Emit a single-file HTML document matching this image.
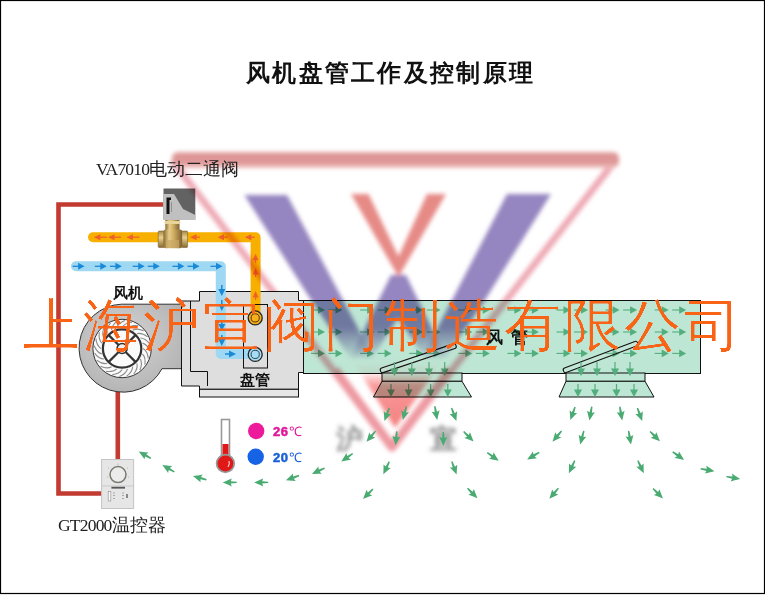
<!DOCTYPE html><html><head><meta charset="utf-8"><style>
html,body{margin:0;padding:0;background:#fff;}
#c{position:relative;width:765px;height:595px;overflow:hidden;background:#fff;}
svg{position:absolute;left:0;top:0;}
.t{position:absolute;white-space:nowrap;line-height:1;}
</style></head><body><div id="c">
<svg width="765" height="595" viewBox="0 0 765 595">
<defs><filter id="thin" x="-2%" y="-10%" width="104%" height="120%"><feGaussianBlur stdDeviation="0.55"/><feComponentTransfer><feFuncA type="linear" slope="3" intercept="-1.8"/></feComponentTransfer></filter><filter id="bl" x="-10%" y="-10%" width="120%" height="120%"><feGaussianBlur stdDeviation="2.2"/></filter><filter id="bl2" x="-20%" y="-20%" width="140%" height="140%"><feGaussianBlur stdDeviation="2.2"/></filter><radialGradient id="fanG" cx="0.45" cy="0.4" r="0.7"><stop offset="0" stop-color="#d4d4d4"/><stop offset="1" stop-color="#b0b0b0"/></radialGradient><linearGradient id="vG" gradientUnits="userSpaceOnUse" x1="0" y1="195" x2="0" y2="360"><stop offset="0" stop-color="#9585c0"/><stop offset="0.8" stop-color="#9585c0"/><stop offset="1" stop-color="#9585c0" stop-opacity="0"/></linearGradient><linearGradient id="rG" gradientUnits="userSpaceOnUse" x1="0" y1="360" x2="0" y2="428"><stop offset="0" stop-color="#f88686" stop-opacity="0"/><stop offset="0.18" stop-color="#f88686" stop-opacity="0.1"/><stop offset="0.38" stop-color="#f88686" stop-opacity="0.85"/><stop offset="1" stop-color="#f48080"/></linearGradient><linearGradient id="barG" x1="0" y1="0" x2="0" y2="1"><stop offset="0" stop-color="#e6a4a4"/><stop offset="0.25" stop-color="#dc9494"/><stop offset="0.7" stop-color="#e09898"/><stop offset="1" stop-color="#f0c8c4"/></linearGradient><linearGradient id="brass" x1="0" y1="0" x2="1" y2="0"><stop offset="0" stop-color="#8a6a30"/><stop offset="0.3" stop-color="#e6cc8a"/><stop offset="0.55" stop-color="#cfae62"/><stop offset="1" stop-color="#806030"/></linearGradient><linearGradient id="brassV" x1="0" y1="0" x2="0" y2="1"><stop offset="0" stop-color="#a88848"/><stop offset="0.4" stop-color="#e8d090"/><stop offset="1" stop-color="#8a6a30"/></linearGradient></defs>
<rect x="0.5" y="0.5" width="764" height="593" fill="#fff" stroke="#000" stroke-width="1.2"/>
<path d="M163,204.5 L58.5,204.5 L58.5,493.5 L102,493.5" fill="none" stroke="#c23a30" stroke-width="4.6"/>
<path d="M117.8,390 L117.8,460" fill="none" stroke="#c23a30" stroke-width="4.6"/>
<path d="M93,237.2 L255.6,237.2 L255.6,300" fill="none" stroke="#f8b000" stroke-width="10" stroke-linecap="round" stroke-linejoin="round"/>
<path d="M76,266.3 L220.8,266.3 L220.8,300" fill="none" stroke="#9ed8f2" stroke-width="10" stroke-linecap="round" stroke-linejoin="round"/>
<path d="M121.5,304.2 L182,304.2 L182,368.7 L162,368.7 A44,44 0 1 1 121.5,304.2 Z" fill="url(#fanG)" stroke="#333" stroke-width="1"/>
<circle cx="122.1" cy="348.5" r="29.2" fill="#fafafa" stroke="#222" stroke-width="0.9"/>
<path d="M143.1,348.5 Q147.5,351.0 148.3,358.4 M142.4,353.9 Q145.9,357.5 144.9,364.8 M140.3,359.0 Q142.8,363.4 139.9,370.1 M136.9,363.3 Q138.2,368.2 133.7,374.0 M132.6,366.7 Q132.6,371.7 126.7,376.1 M127.5,368.8 Q126.2,373.7 119.4,376.4 M122.1,369.5 Q119.6,373.9 112.2,374.7 M116.7,368.8 Q113.1,372.3 105.8,371.3 M111.6,366.7 Q107.2,369.2 100.5,366.3 M107.3,363.3 Q102.4,364.6 96.6,360.1 M103.9,359.0 Q98.9,359.0 94.5,353.1 M101.8,353.9 Q96.9,352.6 94.2,345.8 M101.1,348.5 Q96.7,346.0 95.9,338.6 M101.8,343.1 Q98.3,339.5 99.3,332.2 M103.9,338.0 Q101.4,333.6 104.3,326.9 M107.3,333.7 Q106.0,328.8 110.5,323.0 M111.6,330.3 Q111.6,325.3 117.5,320.9 M116.7,328.2 Q118.0,323.3 124.8,320.6 M122.1,327.5 Q124.6,323.1 132.0,322.3 M127.5,328.2 Q131.1,324.7 138.4,325.7 M132.6,330.3 Q137.0,327.8 143.7,330.7 M136.9,333.7 Q141.8,332.4 147.6,336.9 M140.3,338.0 Q145.3,338.0 149.7,343.9 M142.4,343.1 Q147.3,344.4 150.0,351.2" stroke="#8a8a8a" stroke-width="1.1" fill="none"/>
<circle cx="122.1" cy="348.5" r="19.2" fill="none" stroke="#333" stroke-width="2.2"/>
<path d="M125.6,352.0 L135.5,361.9 M118.6,352.0 L108.7,361.9 M118.6,345.0 L108.7,335.1 M125.6,345.0 L135.5,335.1" stroke="#333" stroke-width="2.2"/>
<circle cx="122.1" cy="348.5" r="5" fill="#eee" stroke="#333" stroke-width="1.6"/>
<rect x="303.5" y="300.5" width="397" height="73" fill="#bee6d4" stroke="#111" stroke-width="1"/>
<g transform="translate(325.0,310.0) rotate(0)"><line x1="-14.0" y1="0" x2="-6.0" y2="0" stroke="#52ae7c" stroke-width="1.1"/><polygon points="0,0 -7.0,-3.8 -7.0,3.8" fill="#52ae7c"/></g>
<g transform="translate(325.0,332.0) rotate(0)"><line x1="-14.0" y1="0" x2="-6.0" y2="0" stroke="#52ae7c" stroke-width="1.1"/><polygon points="0,0 -7.0,-3.8 -7.0,3.8" fill="#52ae7c"/></g>
<g transform="translate(325.0,353.4) rotate(0)"><line x1="-14.0" y1="0" x2="-6.0" y2="0" stroke="#52ae7c" stroke-width="1.1"/><polygon points="0,0 -7.0,-3.8 -7.0,3.8" fill="#52ae7c"/></g>
<g transform="translate(342.5,310.0) rotate(0)"><line x1="-14.0" y1="0" x2="-6.0" y2="0" stroke="#52ae7c" stroke-width="1.1"/><polygon points="0,0 -7.0,-3.8 -7.0,3.8" fill="#52ae7c"/></g>
<g transform="translate(342.5,332.0) rotate(0)"><line x1="-14.0" y1="0" x2="-6.0" y2="0" stroke="#52ae7c" stroke-width="1.1"/><polygon points="0,0 -7.0,-3.8 -7.0,3.8" fill="#52ae7c"/></g>
<g transform="translate(342.5,353.4) rotate(0)"><line x1="-14.0" y1="0" x2="-6.0" y2="0" stroke="#52ae7c" stroke-width="1.1"/><polygon points="0,0 -7.0,-3.8 -7.0,3.8" fill="#52ae7c"/></g>
<g transform="translate(374.1,310.0) rotate(0)"><line x1="-14.0" y1="0" x2="-6.0" y2="0" stroke="#52ae7c" stroke-width="1.1"/><polygon points="0,0 -7.0,-3.8 -7.0,3.8" fill="#52ae7c"/></g>
<g transform="translate(374.1,332.0) rotate(0)"><line x1="-14.0" y1="0" x2="-6.0" y2="0" stroke="#52ae7c" stroke-width="1.1"/><polygon points="0,0 -7.0,-3.8 -7.0,3.8" fill="#52ae7c"/></g>
<g transform="translate(374.1,353.4) rotate(0)"><line x1="-14.0" y1="0" x2="-6.0" y2="0" stroke="#52ae7c" stroke-width="1.1"/><polygon points="0,0 -7.0,-3.8 -7.0,3.8" fill="#52ae7c"/></g>
<g transform="translate(391.6,310.0) rotate(0)"><line x1="-14.0" y1="0" x2="-6.0" y2="0" stroke="#52ae7c" stroke-width="1.1"/><polygon points="0,0 -7.0,-3.8 -7.0,3.8" fill="#52ae7c"/></g>
<g transform="translate(391.6,332.0) rotate(0)"><line x1="-14.0" y1="0" x2="-6.0" y2="0" stroke="#52ae7c" stroke-width="1.1"/><polygon points="0,0 -7.0,-3.8 -7.0,3.8" fill="#52ae7c"/></g>
<g transform="translate(391.6,353.4) rotate(0)"><line x1="-14.0" y1="0" x2="-6.0" y2="0" stroke="#52ae7c" stroke-width="1.1"/><polygon points="0,0 -7.0,-3.8 -7.0,3.8" fill="#52ae7c"/></g>
<g transform="translate(423.2,310.0) rotate(0)"><line x1="-14.0" y1="0" x2="-6.0" y2="0" stroke="#52ae7c" stroke-width="1.1"/><polygon points="0,0 -7.0,-3.8 -7.0,3.8" fill="#52ae7c"/></g>
<g transform="translate(423.2,332.0) rotate(0)"><line x1="-14.0" y1="0" x2="-6.0" y2="0" stroke="#52ae7c" stroke-width="1.1"/><polygon points="0,0 -7.0,-3.8 -7.0,3.8" fill="#52ae7c"/></g>
<g transform="translate(423.2,353.4) rotate(0)"><line x1="-14.0" y1="0" x2="-6.0" y2="0" stroke="#52ae7c" stroke-width="1.1"/><polygon points="0,0 -7.0,-3.8 -7.0,3.8" fill="#52ae7c"/></g>
<g transform="translate(440.7,310.0) rotate(0)"><line x1="-14.0" y1="0" x2="-6.0" y2="0" stroke="#52ae7c" stroke-width="1.1"/><polygon points="0,0 -7.0,-3.8 -7.0,3.8" fill="#52ae7c"/></g>
<g transform="translate(440.7,332.0) rotate(0)"><line x1="-14.0" y1="0" x2="-6.0" y2="0" stroke="#52ae7c" stroke-width="1.1"/><polygon points="0,0 -7.0,-3.8 -7.0,3.8" fill="#52ae7c"/></g>
<g transform="translate(440.7,353.4) rotate(0)"><line x1="-14.0" y1="0" x2="-6.0" y2="0" stroke="#52ae7c" stroke-width="1.1"/><polygon points="0,0 -7.0,-3.8 -7.0,3.8" fill="#52ae7c"/></g>
<g transform="translate(472.3,310.0) rotate(0)"><line x1="-14.0" y1="0" x2="-6.0" y2="0" stroke="#52ae7c" stroke-width="1.1"/><polygon points="0,0 -7.0,-3.8 -7.0,3.8" fill="#52ae7c"/></g>
<g transform="translate(472.3,332.0) rotate(0)"><line x1="-14.0" y1="0" x2="-6.0" y2="0" stroke="#52ae7c" stroke-width="1.1"/><polygon points="0,0 -7.0,-3.8 -7.0,3.8" fill="#52ae7c"/></g>
<g transform="translate(472.3,353.4) rotate(0)"><line x1="-14.0" y1="0" x2="-6.0" y2="0" stroke="#52ae7c" stroke-width="1.1"/><polygon points="0,0 -7.0,-3.8 -7.0,3.8" fill="#52ae7c"/></g>
<g transform="translate(489.8,310.0) rotate(0)"><line x1="-14.0" y1="0" x2="-6.0" y2="0" stroke="#52ae7c" stroke-width="1.1"/><polygon points="0,0 -7.0,-3.8 -7.0,3.8" fill="#52ae7c"/></g>
<g transform="translate(489.8,332.0) rotate(0)"><line x1="-14.0" y1="0" x2="-6.0" y2="0" stroke="#52ae7c" stroke-width="1.1"/><polygon points="0,0 -7.0,-3.8 -7.0,3.8" fill="#52ae7c"/></g>
<g transform="translate(489.8,353.4) rotate(0)"><line x1="-14.0" y1="0" x2="-6.0" y2="0" stroke="#52ae7c" stroke-width="1.1"/><polygon points="0,0 -7.0,-3.8 -7.0,3.8" fill="#52ae7c"/></g>
<g transform="translate(521.4,310.0) rotate(0)"><line x1="-14.0" y1="0" x2="-6.0" y2="0" stroke="#52ae7c" stroke-width="1.1"/><polygon points="0,0 -7.0,-3.8 -7.0,3.8" fill="#52ae7c"/></g>
<g transform="translate(521.4,332.0) rotate(0)"><line x1="-14.0" y1="0" x2="-6.0" y2="0" stroke="#52ae7c" stroke-width="1.1"/><polygon points="0,0 -7.0,-3.8 -7.0,3.8" fill="#52ae7c"/></g>
<g transform="translate(521.4,353.4) rotate(0)"><line x1="-14.0" y1="0" x2="-6.0" y2="0" stroke="#52ae7c" stroke-width="1.1"/><polygon points="0,0 -7.0,-3.8 -7.0,3.8" fill="#52ae7c"/></g>
<g transform="translate(538.9,310.0) rotate(0)"><line x1="-14.0" y1="0" x2="-6.0" y2="0" stroke="#52ae7c" stroke-width="1.1"/><polygon points="0,0 -7.0,-3.8 -7.0,3.8" fill="#52ae7c"/></g>
<g transform="translate(538.9,332.0) rotate(0)"><line x1="-14.0" y1="0" x2="-6.0" y2="0" stroke="#52ae7c" stroke-width="1.1"/><polygon points="0,0 -7.0,-3.8 -7.0,3.8" fill="#52ae7c"/></g>
<g transform="translate(538.9,353.4) rotate(0)"><line x1="-14.0" y1="0" x2="-6.0" y2="0" stroke="#52ae7c" stroke-width="1.1"/><polygon points="0,0 -7.0,-3.8 -7.0,3.8" fill="#52ae7c"/></g>
<g transform="translate(570.5,310.0) rotate(0)"><line x1="-14.0" y1="0" x2="-6.0" y2="0" stroke="#52ae7c" stroke-width="1.1"/><polygon points="0,0 -7.0,-3.8 -7.0,3.8" fill="#52ae7c"/></g>
<g transform="translate(570.5,332.0) rotate(0)"><line x1="-14.0" y1="0" x2="-6.0" y2="0" stroke="#52ae7c" stroke-width="1.1"/><polygon points="0,0 -7.0,-3.8 -7.0,3.8" fill="#52ae7c"/></g>
<g transform="translate(570.5,353.4) rotate(0)"><line x1="-14.0" y1="0" x2="-6.0" y2="0" stroke="#52ae7c" stroke-width="1.1"/><polygon points="0,0 -7.0,-3.8 -7.0,3.8" fill="#52ae7c"/></g>
<g transform="translate(588.0,310.0) rotate(0)"><line x1="-14.0" y1="0" x2="-6.0" y2="0" stroke="#52ae7c" stroke-width="1.1"/><polygon points="0,0 -7.0,-3.8 -7.0,3.8" fill="#52ae7c"/></g>
<g transform="translate(588.0,332.0) rotate(0)"><line x1="-14.0" y1="0" x2="-6.0" y2="0" stroke="#52ae7c" stroke-width="1.1"/><polygon points="0,0 -7.0,-3.8 -7.0,3.8" fill="#52ae7c"/></g>
<g transform="translate(588.0,353.4) rotate(0)"><line x1="-14.0" y1="0" x2="-6.0" y2="0" stroke="#52ae7c" stroke-width="1.1"/><polygon points="0,0 -7.0,-3.8 -7.0,3.8" fill="#52ae7c"/></g>
<g transform="translate(619.6,310.0) rotate(0)"><line x1="-14.0" y1="0" x2="-6.0" y2="0" stroke="#52ae7c" stroke-width="1.1"/><polygon points="0,0 -7.0,-3.8 -7.0,3.8" fill="#52ae7c"/></g>
<g transform="translate(619.6,332.0) rotate(0)"><line x1="-14.0" y1="0" x2="-6.0" y2="0" stroke="#52ae7c" stroke-width="1.1"/><polygon points="0,0 -7.0,-3.8 -7.0,3.8" fill="#52ae7c"/></g>
<g transform="translate(619.6,353.4) rotate(0)"><line x1="-14.0" y1="0" x2="-6.0" y2="0" stroke="#52ae7c" stroke-width="1.1"/><polygon points="0,0 -7.0,-3.8 -7.0,3.8" fill="#52ae7c"/></g>
<g transform="translate(637.1,310.0) rotate(0)"><line x1="-14.0" y1="0" x2="-6.0" y2="0" stroke="#52ae7c" stroke-width="1.1"/><polygon points="0,0 -7.0,-3.8 -7.0,3.8" fill="#52ae7c"/></g>
<g transform="translate(637.1,332.0) rotate(0)"><line x1="-14.0" y1="0" x2="-6.0" y2="0" stroke="#52ae7c" stroke-width="1.1"/><polygon points="0,0 -7.0,-3.8 -7.0,3.8" fill="#52ae7c"/></g>
<g transform="translate(637.1,353.4) rotate(0)"><line x1="-14.0" y1="0" x2="-6.0" y2="0" stroke="#52ae7c" stroke-width="1.1"/><polygon points="0,0 -7.0,-3.8 -7.0,3.8" fill="#52ae7c"/></g>
<g transform="translate(668.7,310.0) rotate(0)"><line x1="-14.0" y1="0" x2="-6.0" y2="0" stroke="#52ae7c" stroke-width="1.1"/><polygon points="0,0 -7.0,-3.8 -7.0,3.8" fill="#52ae7c"/></g>
<g transform="translate(668.7,332.0) rotate(0)"><line x1="-14.0" y1="0" x2="-6.0" y2="0" stroke="#52ae7c" stroke-width="1.1"/><polygon points="0,0 -7.0,-3.8 -7.0,3.8" fill="#52ae7c"/></g>
<g transform="translate(668.7,353.4) rotate(0)"><line x1="-14.0" y1="0" x2="-6.0" y2="0" stroke="#52ae7c" stroke-width="1.1"/><polygon points="0,0 -7.0,-3.8 -7.0,3.8" fill="#52ae7c"/></g>
<g transform="translate(686.2,310.0) rotate(0)"><line x1="-14.0" y1="0" x2="-6.0" y2="0" stroke="#52ae7c" stroke-width="1.1"/><polygon points="0,0 -7.0,-3.8 -7.0,3.8" fill="#52ae7c"/></g>
<g transform="translate(686.2,332.0) rotate(0)"><line x1="-14.0" y1="0" x2="-6.0" y2="0" stroke="#52ae7c" stroke-width="1.1"/><polygon points="0,0 -7.0,-3.8 -7.0,3.8" fill="#52ae7c"/></g>
<g transform="translate(686.2,353.4) rotate(0)"><line x1="-14.0" y1="0" x2="-6.0" y2="0" stroke="#52ae7c" stroke-width="1.1"/><polygon points="0,0 -7.0,-3.8 -7.0,3.8" fill="#52ae7c"/></g>
<rect x="382" y="373" width="80" height="8.3" fill="#bee6d4" stroke="#111" stroke-width="1"/>
<polygon points="382,381.3 462,381.3 471.5,397 373.5,397" fill="#bee6d4" stroke="#111" stroke-width="1"/>
<g transform="translate(380.5,371) rotate(-18.66)"><rect x="0" y="-2.4" width="79.7" height="4.8" rx="2" fill="#f4faf6" fill-opacity="0.1" stroke="#111" stroke-width="1.1"/></g>
<rect x="566" y="373" width="79" height="8.3" fill="#bee6d4" stroke="#111" stroke-width="1"/>
<polygon points="566,381.3 645,381.3 654,397 559,397" fill="#bee6d4" stroke="#111" stroke-width="1"/>
<g transform="translate(563.5,371) rotate(-20.70)"><rect x="0" y="-2.4" width="79.2" height="4.8" rx="2" fill="#f4faf6" fill-opacity="0.1" stroke="#111" stroke-width="1.1"/></g>
<g transform="translate(394.5,376.0) rotate(90)"><line x1="-14.0" y1="0" x2="-6.5" y2="0" stroke="#52ae7c" stroke-width="1.2"/><polygon points="0,0 -7.5,-4.0 -7.5,4.0" fill="#52ae7c"/></g>
<g transform="translate(411.8,376.0) rotate(90)"><line x1="-14.0" y1="0" x2="-6.5" y2="0" stroke="#52ae7c" stroke-width="1.2"/><polygon points="0,0 -7.5,-4.0 -7.5,4.0" fill="#52ae7c"/></g>
<g transform="translate(429.0,376.0) rotate(90)"><line x1="-14.0" y1="0" x2="-6.5" y2="0" stroke="#52ae7c" stroke-width="1.2"/><polygon points="0,0 -7.5,-4.0 -7.5,4.0" fill="#52ae7c"/></g>
<g transform="translate(444.7,376.0) rotate(90)"><line x1="-14.0" y1="0" x2="-6.5" y2="0" stroke="#52ae7c" stroke-width="1.2"/><polygon points="0,0 -7.5,-4.0 -7.5,4.0" fill="#52ae7c"/></g>
<g transform="translate(581.0,376.0) rotate(90)"><line x1="-14.0" y1="0" x2="-6.5" y2="0" stroke="#52ae7c" stroke-width="1.2"/><polygon points="0,0 -7.5,-4.0 -7.5,4.0" fill="#52ae7c"/></g>
<g transform="translate(597.0,376.0) rotate(90)"><line x1="-14.0" y1="0" x2="-6.5" y2="0" stroke="#52ae7c" stroke-width="1.2"/><polygon points="0,0 -7.5,-4.0 -7.5,4.0" fill="#52ae7c"/></g>
<g transform="translate(615.0,376.0) rotate(90)"><line x1="-14.0" y1="0" x2="-6.5" y2="0" stroke="#52ae7c" stroke-width="1.2"/><polygon points="0,0 -7.5,-4.0 -7.5,4.0" fill="#52ae7c"/></g>
<g transform="translate(630.0,376.0) rotate(90)"><line x1="-14.0" y1="0" x2="-6.5" y2="0" stroke="#52ae7c" stroke-width="1.2"/><polygon points="0,0 -7.5,-4.0 -7.5,4.0" fill="#52ae7c"/></g>
<g transform="translate(391.0,397.0) rotate(90)"><line x1="-13.0" y1="0" x2="-6.5" y2="0" stroke="#52ae7c" stroke-width="1.2"/><polygon points="0,0 -7.5,-4.0 -7.5,4.0" fill="#52ae7c"/></g>
<g transform="translate(408.6,397.0) rotate(90)"><line x1="-13.0" y1="0" x2="-6.5" y2="0" stroke="#52ae7c" stroke-width="1.2"/><polygon points="0,0 -7.5,-4.0 -7.5,4.0" fill="#52ae7c"/></g>
<g transform="translate(430.6,397.0) rotate(90)"><line x1="-13.0" y1="0" x2="-6.5" y2="0" stroke="#52ae7c" stroke-width="1.2"/><polygon points="0,0 -7.5,-4.0 -7.5,4.0" fill="#52ae7c"/></g>
<g transform="translate(447.8,397.0) rotate(90)"><line x1="-13.0" y1="0" x2="-6.5" y2="0" stroke="#52ae7c" stroke-width="1.2"/><polygon points="0,0 -7.5,-4.0 -7.5,4.0" fill="#52ae7c"/></g>
<g transform="translate(578.0,397.0) rotate(90)"><line x1="-13.0" y1="0" x2="-6.5" y2="0" stroke="#52ae7c" stroke-width="1.2"/><polygon points="0,0 -7.5,-4.0 -7.5,4.0" fill="#52ae7c"/></g>
<g transform="translate(595.0,397.0) rotate(90)"><line x1="-13.0" y1="0" x2="-6.5" y2="0" stroke="#52ae7c" stroke-width="1.2"/><polygon points="0,0 -7.5,-4.0 -7.5,4.0" fill="#52ae7c"/></g>
<g transform="translate(616.5,397.0) rotate(90)"><line x1="-13.0" y1="0" x2="-6.5" y2="0" stroke="#52ae7c" stroke-width="1.2"/><polygon points="0,0 -7.5,-4.0 -7.5,4.0" fill="#52ae7c"/></g>
<g transform="translate(634.0,397.0) rotate(90)"><line x1="-13.0" y1="0" x2="-6.5" y2="0" stroke="#52ae7c" stroke-width="1.2"/><polygon points="0,0 -7.5,-4.0 -7.5,4.0" fill="#52ae7c"/></g>
<rect x="101.6" y="459.5" width="32" height="49" fill="#e6e6e6" stroke="#c4c4c4" stroke-width="1"/>
<line x1="102" y1="486" x2="133.5" y2="486" stroke="#c8c8c8" stroke-width="1"/>
<rect x="111.4" y="486.8" width="13.6" height="1.8" fill="#555"/>
<circle cx="118" cy="474.6" r="8" fill="#ececec" stroke="#7a7a70" stroke-width="1.5"/>
<g fill="#aaa"><circle cx="118" cy="464.2" r="0.6"/><circle cx="108.5" cy="468" r="0.5"/><circle cx="127.5" cy="468" r="0.5"/><circle cx="107.5" cy="477" r="0.5"/><circle cx="128.5" cy="477" r="0.5"/></g>
<rect x="108.2" y="491.5" width="2.6" height="9.5" fill="#fafafa" stroke="#999" stroke-width="0.7"/>
<g stroke="#999" stroke-width="0.8"><line x1="113" y1="493" x2="115" y2="493"/><line x1="113" y1="495.5" x2="115" y2="495.5"/><line x1="113" y1="498.5" x2="115" y2="498.5"/><line x1="122" y1="493" x2="124" y2="493"/><line x1="122" y1="495.5" x2="124" y2="495.5"/><line x1="122" y1="498.5" x2="124" y2="498.5"/></g>
<rect x="126" y="494" width="2" height="4" fill="#888"/>
<rect x="221.5" y="419.5" width="8" height="38" fill="#fff" stroke="#999" stroke-width="1.6"/>
<rect x="222.5" y="444" width="6" height="16" fill="#e01818"/>
<circle cx="225.4" cy="463.5" r="8.8" fill="#e01818" stroke="#999" stroke-width="1.8"/>
<path d="M229,461 Q230,464 228,467" stroke="#fff" stroke-width="1" fill="none" opacity="0.9"/>
<circle cx="256.2" cy="431" r="8.2" fill="#ee1a9c"/>
<circle cx="255.7" cy="456.8" r="8.2" fill="#1763e6"/>
<rect x="165.3" y="220" width="14.2" height="10" fill="url(#brass)"/>
<rect x="164.5" y="221" width="15.8" height="3" rx="1" fill="#e8d49a"/>
<rect x="158.2" y="231" width="6" height="16.5" rx="1" fill="url(#brassV)" stroke="#6a5020" stroke-width="0.5"/>
<rect x="181.6" y="231" width="6" height="16.5" rx="1" fill="url(#brassV)" stroke="#6a5020" stroke-width="0.5"/>
<rect x="163.5" y="229.4" width="18.6" height="18.8" rx="2" fill="url(#brass)"/>
<rect x="166" y="240" width="13" height="8" fill="#c9a864" opacity="0.7"/>
<polygon points="163.5,188.5 195.3,188.5 195.3,219.5 163.5,219.5" fill="#626262"/>
<polygon points="163.5,194 174,194 183,209 195.3,215 195.3,220 163.5,220" fill="#c0c0c0"/>
<path d="M166.5,197.6 L171,197.6 L171,200 L169.5,200 L169.5,214 L166.5,214 Z" fill="#111"/>
<line x1="171.5" y1="202" x2="171.5" y2="212" stroke="#888" stroke-width="0.8"/>
<g transform="translate(93.8,237.2) rotate(180)"><line x1="-13.0" y1="0" x2="-5.5" y2="0" stroke="#f0602a" stroke-width="1.2"/><polygon points="0,0 -6.5,-3.0 -6.5,3.0" fill="#f0602a"/></g>
<g transform="translate(108.0,237.2) rotate(180)"><line x1="-13.0" y1="0" x2="-5.5" y2="0" stroke="#f0602a" stroke-width="1.2"/><polygon points="0,0 -6.5,-3.0 -6.5,3.0" fill="#f0602a"/></g>
<g transform="translate(126.4,237.2) rotate(180)"><line x1="-13.0" y1="0" x2="-5.5" y2="0" stroke="#f0602a" stroke-width="1.2"/><polygon points="0,0 -6.5,-3.0 -6.5,3.0" fill="#f0602a"/></g>
<g transform="translate(190.0,237.2) rotate(180)"><line x1="-10.0" y1="0" x2="-5.5" y2="0" stroke="#f0602a" stroke-width="1.2"/><polygon points="0,0 -6.5,-3.0 -6.5,3.0" fill="#f0602a"/></g>
<g transform="translate(217.5,237.2) rotate(180)"><line x1="-10.0" y1="0" x2="-5.5" y2="0" stroke="#f0602a" stroke-width="1.2"/><polygon points="0,0 -6.5,-3.0 -6.5,3.0" fill="#f0602a"/></g>
<g transform="translate(244.8,237.2) rotate(180)"><line x1="-10.0" y1="0" x2="-5.5" y2="0" stroke="#f0602a" stroke-width="1.2"/><polygon points="0,0 -6.5,-3.0 -6.5,3.0" fill="#f0602a"/></g>
<g transform="translate(255.6,253.8) rotate(-90)"><line x1="-9.0" y1="0" x2="-5.5" y2="0" stroke="#f0602a" stroke-width="1.2"/><polygon points="0,0 -6.5,-3.0 -6.5,3.0" fill="#f0602a"/></g>
<g transform="translate(255.6,268.0) rotate(-90)"><line x1="-9.0" y1="0" x2="-5.5" y2="0" stroke="#f0602a" stroke-width="1.2"/><polygon points="0,0 -6.5,-3.0 -6.5,3.0" fill="#f0602a"/></g>
<g transform="translate(84.6,266.3) rotate(0)"><line x1="-12.0" y1="0" x2="-5.5" y2="0" stroke="#1a8ad8" stroke-width="1.3"/><polygon points="0,0 -6.5,-3.5 -6.5,3.5" fill="#1a8ad8"/></g>
<g transform="translate(106.8,266.3) rotate(0)"><line x1="-12.0" y1="0" x2="-5.5" y2="0" stroke="#1a8ad8" stroke-width="1.3"/><polygon points="0,0 -6.5,-3.5 -6.5,3.5" fill="#1a8ad8"/></g>
<g transform="translate(121.9,266.3) rotate(0)"><line x1="-12.0" y1="0" x2="-5.5" y2="0" stroke="#1a8ad8" stroke-width="1.3"/><polygon points="0,0 -6.5,-3.5 -6.5,3.5" fill="#1a8ad8"/></g>
<g transform="translate(144.7,266.3) rotate(0)"><line x1="-12.0" y1="0" x2="-5.5" y2="0" stroke="#1a8ad8" stroke-width="1.3"/><polygon points="0,0 -6.5,-3.5 -6.5,3.5" fill="#1a8ad8"/></g>
<g transform="translate(159.8,266.3) rotate(0)"><line x1="-12.0" y1="0" x2="-5.5" y2="0" stroke="#1a8ad8" stroke-width="1.3"/><polygon points="0,0 -6.5,-3.5 -6.5,3.5" fill="#1a8ad8"/></g>
<g transform="translate(184.4,266.3) rotate(0)"><line x1="-12.0" y1="0" x2="-5.5" y2="0" stroke="#1a8ad8" stroke-width="1.3"/><polygon points="0,0 -6.5,-3.5 -6.5,3.5" fill="#1a8ad8"/></g>
<g transform="translate(199.5,266.3) rotate(0)"><line x1="-12.0" y1="0" x2="-5.5" y2="0" stroke="#1a8ad8" stroke-width="1.3"/><polygon points="0,0 -6.5,-3.5 -6.5,3.5" fill="#1a8ad8"/></g>
<g transform="translate(222.5,266.3) rotate(0)"><line x1="-12.0" y1="0" x2="-5.5" y2="0" stroke="#1a8ad8" stroke-width="1.3"/><polygon points="0,0 -6.5,-3.5 -6.5,3.5" fill="#1a8ad8"/></g>
<g style="mix-blend-mode:multiply" filter="url(#bl)">
<path d="M172.5,161 L392,447 L611,166" stroke="#eeaab6" stroke-width="7" fill="none" stroke-linejoin="round"/>
<path d="M335,370 L392,447 L450,370" stroke="#ee9aa2" stroke-width="9" fill="none" stroke-linejoin="round"/>
<rect x="172" y="152" width="447" height="16" rx="6" fill="url(#barG)"/>
<polygon points="244.4,195 287,195 343,300 374,358 350,358 311,300" fill="url(#vG)"/>
<polygon points="507,194 551,194 485,300 446,358 422,358 452,300" fill="url(#vG)"/>
<polygon points="391,275 406,275 446,358 424,358 398,318 372,358 350,358" fill="url(#vG)"/>
<polygon points="351,194 368.5,194 398.5,256.5 427,194 446,194 398.5,277" fill="#e68a86"/>
<polygon points="352,360 444,360 395,428" fill="url(#rG)"/>
</g>
<g opacity="0.68" filter="url(#bl2)" style="mix-blend-mode:multiply">
<text x="336" y="447.5" font-family="Liberation Sans, sans-serif" font-weight="bold" font-size="27" fill="#555">沪</text>
<text x="429.5" y="448" font-family="Liberation Sans, sans-serif" font-weight="bold" font-size="27" fill="#555">宣</text>
</g>
<g transform="translate(144.8,454.9) rotate(-150)"><path d="M-7,-0.7 L-1,-1.2 L-2,-4 L1,-2.6 L7,0 L1,2.6 L-2,4 L-1,1.2 L-7,0.7 Z" fill="#4aab72"/></g>
<g transform="translate(168.4,468.5) rotate(-150)"><path d="M-7,-0.7 L-1,-1.2 L-2,-4 L1,-2.6 L7,0 L1,2.6 L-2,4 L-1,1.2 L-7,0.7 Z" fill="#4aab72"/></g>
<g transform="translate(199.7,477.9) rotate(-165)"><path d="M-7,-0.7 L-1,-1.2 L-2,-4 L1,-2.6 L7,0 L1,2.6 L-2,4 L-1,1.2 L-7,0.7 Z" fill="#4aab72"/></g>
<g transform="translate(229.8,482.4) rotate(180)"><path d="M-7,-0.7 L-1,-1.2 L-2,-4 L1,-2.6 L7,0 L1,2.6 L-2,4 L-1,1.2 L-7,0.7 Z" fill="#4aab72"/></g>
<g transform="translate(261.2,482.4) rotate(180)"><path d="M-7,-0.7 L-1,-1.2 L-2,-4 L1,-2.6 L7,0 L1,2.6 L-2,4 L-1,1.2 L-7,0.7 Z" fill="#4aab72"/></g>
<g transform="translate(292.5,477.9) rotate(160)"><path d="M-7,-0.7 L-1,-1.2 L-2,-4 L1,-2.6 L7,0 L1,2.6 L-2,4 L-1,1.2 L-7,0.7 Z" fill="#4aab72"/></g>
<g transform="translate(318.3,471.0) rotate(155)"><path d="M-7,-0.7 L-1,-1.2 L-2,-4 L1,-2.6 L7,0 L1,2.6 L-2,4 L-1,1.2 L-7,0.7 Z" fill="#4aab72"/></g>
<g transform="translate(386.8,414.5) rotate(110)"><path d="M-7,-0.7 L-1,-1.2 L-2,-4 L1,-2.6 L7,0 L1,2.6 L-2,4 L-1,1.2 L-7,0.7 Z" fill="#4aab72"/></g>
<g transform="translate(404.6,413.2) rotate(105)"><path d="M-7,-0.7 L-1,-1.2 L-2,-4 L1,-2.6 L7,0 L1,2.6 L-2,4 L-1,1.2 L-7,0.7 Z" fill="#4aab72"/></g>
<g transform="translate(436.0,413.0) rotate(80)"><path d="M-7,-0.7 L-1,-1.2 L-2,-4 L1,-2.6 L7,0 L1,2.6 L-2,4 L-1,1.2 L-7,0.7 Z" fill="#4aab72"/></g>
<g transform="translate(454.0,414.5) rotate(70)"><path d="M-7,-0.7 L-1,-1.2 L-2,-4 L1,-2.6 L7,0 L1,2.6 L-2,4 L-1,1.2 L-7,0.7 Z" fill="#4aab72"/></g>
<g transform="translate(371.0,436.5) rotate(130)"><path d="M-7,-0.7 L-1,-1.2 L-2,-4 L1,-2.6 L7,0 L1,2.6 L-2,4 L-1,1.2 L-7,0.7 Z" fill="#4aab72"/></g>
<g transform="translate(396.2,438.4) rotate(95)"><path d="M-7,-0.7 L-1,-1.2 L-2,-4 L1,-2.6 L7,0 L1,2.6 L-2,4 L-1,1.2 L-7,0.7 Z" fill="#4aab72"/></g>
<g transform="translate(443.3,439.0) rotate(90)"><path d="M-7,-0.7 L-1,-1.2 L-2,-4 L1,-2.6 L7,0 L1,2.6 L-2,4 L-1,1.2 L-7,0.7 Z" fill="#4aab72"/></g>
<g transform="translate(468.6,436.5) rotate(45)"><path d="M-7,-0.7 L-1,-1.2 L-2,-4 L1,-2.6 L7,0 L1,2.6 L-2,4 L-1,1.2 L-7,0.7 Z" fill="#4aab72"/></g>
<g transform="translate(347.0,457.5) rotate(145)"><path d="M-7,-0.7 L-1,-1.2 L-2,-4 L1,-2.6 L7,0 L1,2.6 L-2,4 L-1,1.2 L-7,0.7 Z" fill="#4aab72"/></g>
<g transform="translate(386.3,468.0) rotate(115)"><path d="M-7,-0.7 L-1,-1.2 L-2,-4 L1,-2.6 L7,0 L1,2.6 L-2,4 L-1,1.2 L-7,0.7 Z" fill="#4aab72"/></g>
<g transform="translate(454.2,468.0) rotate(70)"><path d="M-7,-0.7 L-1,-1.2 L-2,-4 L1,-2.6 L7,0 L1,2.6 L-2,4 L-1,1.2 L-7,0.7 Z" fill="#4aab72"/></g>
<g transform="translate(493.0,456.7) rotate(35)"><path d="M-7,-0.7 L-1,-1.2 L-2,-4 L1,-2.6 L7,0 L1,2.6 L-2,4 L-1,1.2 L-7,0.7 Z" fill="#4aab72"/></g>
<g transform="translate(368.0,494.0) rotate(135)"><path d="M-7,-0.7 L-1,-1.2 L-2,-4 L1,-2.6 L7,0 L1,2.6 L-2,4 L-1,1.2 L-7,0.7 Z" fill="#4aab72"/></g>
<g transform="translate(472.5,493.3) rotate(45)"><path d="M-7,-0.7 L-1,-1.2 L-2,-4 L1,-2.6 L7,0 L1,2.6 L-2,4 L-1,1.2 L-7,0.7 Z" fill="#4aab72"/></g>
<g transform="translate(572.7,413.5) rotate(110)"><path d="M-7,-0.7 L-1,-1.2 L-2,-4 L1,-2.6 L7,0 L1,2.6 L-2,4 L-1,1.2 L-7,0.7 Z" fill="#4aab72"/></g>
<g transform="translate(590.6,413.5) rotate(100)"><path d="M-7,-0.7 L-1,-1.2 L-2,-4 L1,-2.6 L7,0 L1,2.6 L-2,4 L-1,1.2 L-7,0.7 Z" fill="#4aab72"/></g>
<g transform="translate(621.0,413.5) rotate(80)"><path d="M-7,-0.7 L-1,-1.2 L-2,-4 L1,-2.6 L7,0 L1,2.6 L-2,4 L-1,1.2 L-7,0.7 Z" fill="#4aab72"/></g>
<g transform="translate(639.8,414.5) rotate(70)"><path d="M-7,-0.7 L-1,-1.2 L-2,-4 L1,-2.6 L7,0 L1,2.6 L-2,4 L-1,1.2 L-7,0.7 Z" fill="#4aab72"/></g>
<g transform="translate(557.0,436.4) rotate(130)"><path d="M-7,-0.7 L-1,-1.2 L-2,-4 L1,-2.6 L7,0 L1,2.6 L-2,4 L-1,1.2 L-7,0.7 Z" fill="#4aab72"/></g>
<g transform="translate(582.0,437.7) rotate(105)"><path d="M-7,-0.7 L-1,-1.2 L-2,-4 L1,-2.6 L7,0 L1,2.6 L-2,4 L-1,1.2 L-7,0.7 Z" fill="#4aab72"/></g>
<g transform="translate(629.8,437.7) rotate(80)"><path d="M-7,-0.7 L-1,-1.2 L-2,-4 L1,-2.6 L7,0 L1,2.6 L-2,4 L-1,1.2 L-7,0.7 Z" fill="#4aab72"/></g>
<g transform="translate(655.0,436.4) rotate(45)"><path d="M-7,-0.7 L-1,-1.2 L-2,-4 L1,-2.6 L7,0 L1,2.6 L-2,4 L-1,1.2 L-7,0.7 Z" fill="#4aab72"/></g>
<g transform="translate(533.2,455.9) rotate(150)"><path d="M-7,-0.7 L-1,-1.2 L-2,-4 L1,-2.6 L7,0 L1,2.6 L-2,4 L-1,1.2 L-7,0.7 Z" fill="#4aab72"/></g>
<g transform="translate(571.8,466.9) rotate(115)"><path d="M-7,-0.7 L-1,-1.2 L-2,-4 L1,-2.6 L7,0 L1,2.6 L-2,4 L-1,1.2 L-7,0.7 Z" fill="#4aab72"/></g>
<g transform="translate(640.8,466.9) rotate(65)"><path d="M-7,-0.7 L-1,-1.2 L-2,-4 L1,-2.6 L7,0 L1,2.6 L-2,4 L-1,1.2 L-7,0.7 Z" fill="#4aab72"/></g>
<g transform="translate(678.4,455.9) rotate(35)"><path d="M-7,-0.7 L-1,-1.2 L-2,-4 L1,-2.6 L7,0 L1,2.6 L-2,4 L-1,1.2 L-7,0.7 Z" fill="#4aab72"/></g>
<g transform="translate(707.6,470.0) rotate(10)"><path d="M-7,-0.7 L-1,-1.2 L-2,-4 L1,-2.6 L7,0 L1,2.6 L-2,4 L-1,1.2 L-7,0.7 Z" fill="#4aab72"/></g>
<g transform="translate(733.3,477.8) rotate(10)"><path d="M-7,-0.7 L-1,-1.2 L-2,-4 L1,-2.6 L7,0 L1,2.6 L-2,4 L-1,1.2 L-7,0.7 Z" fill="#4aab72"/></g>
<g transform="translate(553.9,493.5) rotate(130)"><path d="M-7,-0.7 L-1,-1.2 L-2,-4 L1,-2.6 L7,0 L1,2.6 L-2,4 L-1,1.2 L-7,0.7 Z" fill="#4aab72"/></g>
<g transform="translate(658.0,493.5) rotate(45)"><path d="M-7,-0.7 L-1,-1.2 L-2,-4 L1,-2.6 L7,0 L1,2.6 L-2,4 L-1,1.2 L-7,0.7 Z" fill="#4aab72"/></g>
<path d="M199.5,291.5 L298.5,291.5 L298.5,300.5 L303.5,300.5 L303.5,372.5 L298.5,372.5 L298.5,389.3 L199.5,389.3 L199.5,386 L181.5,386 L181.5,301 L199.5,301 Z" fill="#dedede" stroke="#111" stroke-width="1"/>
<path d="M190.5,301 L190.5,371.5 L207.5,371.5 L207.5,386" fill="none" stroke="#111" stroke-width="1"/>
<rect x="199.5" y="389.3" width="99" height="7.7" fill="#e6e6e6" stroke="#111" stroke-width="1"/>
<path d="M220.8,291 L220.8,354 L252,354" fill="none" stroke="#9ed8f2" stroke-width="10" stroke-linejoin="round"/>
<path d="M255.6,291 L255.6,312" fill="none" stroke="#f8b000" stroke-width="10"/>
<rect x="243.5" y="304.5" width="24" height="63.5" fill="none" stroke="#111" stroke-width="1"/>
<circle cx="255.2" cy="317.9" r="7" fill="#f6b01a" stroke="#222" stroke-width="1.3"/>
<circle cx="255.2" cy="317.9" r="4.1" fill="none" stroke="#553311" stroke-width="1"/>
<circle cx="255.2" cy="354.4" r="7" fill="#a8dcf2" stroke="#222" stroke-width="1.3"/>
<circle cx="255.2" cy="354.4" r="4.1" fill="none" stroke="#224455" stroke-width="1"/>
<g transform="translate(255.6,291.0) rotate(-90)"><line x1="-9.0" y1="0" x2="-5.5" y2="0" stroke="#f0602a" stroke-width="1.2"/><polygon points="0,0 -6.5,-3.0 -6.5,3.0" fill="#f0602a"/></g>
<g transform="translate(221.8,296.0) rotate(90)"><line x1="-11.0" y1="0" x2="-6.0" y2="0" stroke="#1a8ad8" stroke-width="1.5"/><polygon points="0,0 -7.0,-3.5 -7.0,3.5" fill="#1a8ad8"/></g>
<g transform="translate(221.8,311.0) rotate(90)"><line x1="-11.0" y1="0" x2="-6.0" y2="0" stroke="#1a8ad8" stroke-width="1.5"/><polygon points="0,0 -7.0,-3.5 -7.0,3.5" fill="#1a8ad8"/></g>
<g transform="translate(221.8,331.0) rotate(90)"><line x1="-11.0" y1="0" x2="-6.0" y2="0" stroke="#1a8ad8" stroke-width="1.5"/><polygon points="0,0 -7.0,-3.5 -7.0,3.5" fill="#1a8ad8"/></g>
<g transform="translate(221.8,346.0) rotate(90)"><line x1="-11.0" y1="0" x2="-6.0" y2="0" stroke="#1a8ad8" stroke-width="1.5"/><polygon points="0,0 -7.0,-3.5 -7.0,3.5" fill="#1a8ad8"/></g>
<g transform="translate(236.0,354.0) rotate(0)"><line x1="-11.0" y1="0" x2="-6.0" y2="0" stroke="#1a8ad8" stroke-width="1.5"/><polygon points="0,0 -7.0,-3.5 -7.0,3.5" fill="#1a8ad8"/></g>
</svg>
<div class="t" style="left:246px;top:61px;font-family:'Liberation Sans',sans-serif;font-weight:bold;font-size:24px;letter-spacing:2.3px;color:#111">风机盘管工作及控制原理</div>
<div class="t" style="left:96px;top:159.5px;font-family:'Liberation Serif',serif;font-size:17.5px;color:#222"><span style="letter-spacing:-0.8px">VA7010</span><span style="font-family:'Liberation Serif',serif;font-size:18px">电动二通阀</span></div>
<div class="t" style="left:112.5px;top:285px;font-family:'Liberation Sans',sans-serif;font-weight:bold;font-size:15px;color:#111">风机</div>
<div class="t" style="left:240px;top:371.5px;font-family:'Liberation Sans',sans-serif;font-weight:bold;font-size:15px;color:#111">盘管</div>
<div class="t" style="left:485.8px;top:328.5px;font-family:'Liberation Sans',sans-serif;font-weight:bold;font-size:17px;color:#111;letter-spacing:8.5px">风管</div>
<div class="t" style="left:273px;top:424.5px;font-family:'Liberation Sans',sans-serif;font-weight:bold;font-size:13px;color:#e0189a"><span style="-webkit-text-stroke:0.5px #e0189a;letter-spacing:0.6px">26</span><span style="font-weight:normal">℃</span></div>
<div class="t" style="left:273px;top:450.5px;font-family:'Liberation Sans',sans-serif;font-weight:bold;font-size:13px;color:#1860d8"><span style="-webkit-text-stroke:0.5px #1860d8;letter-spacing:0.6px">20</span><span style="font-weight:normal">℃</span></div>
<div class="t" style="left:58px;top:516px;font-family:'Liberation Serif',serif;font-size:17.5px;color:#222"><span style="letter-spacing:-0.8px">GT2000</span><span style="font-family:'Liberation Serif',serif;font-size:18px">温控器</span></div>
<div class="t" style="left:23px;top:297px;font-family:'Liberation Serif',serif;font-size:57px;filter:url(#thin);color:#f86418;letter-spacing:3.1px">上海沪宣阀门制造有限公司</div>
</div></body></html>
